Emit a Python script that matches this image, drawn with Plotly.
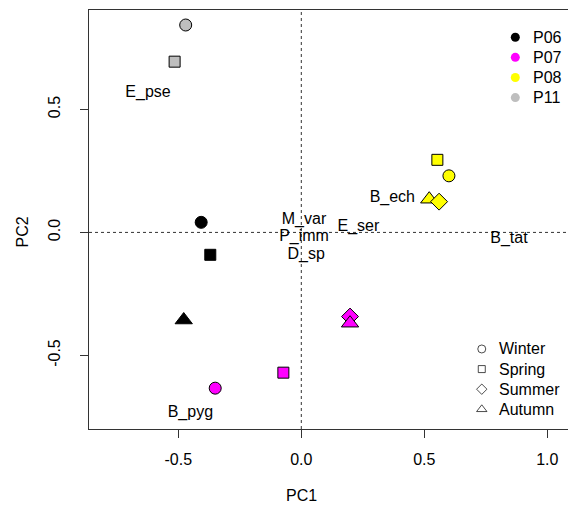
import plotly.graph_objects as go

# ---- data ----
sites = ["P06", "P07", "P08", "P11"]
site_colors = ["#000000", "#FF00FF", "#FFFF00", "#BEBEBE"]
seasons = ["Winter", "Spring", "Summer", "Autumn"]
season_symbols = ["circle", "square", "diamond", "triangle-up"]
season_sizes = [12, 11, 13, 15]

pt_site = ["P06", "P06", "P06", "P07", "P07", "P07", "P07", "P08", "P08", "P08", "P08", "P11", "P11"]
pt_season = ["Winter", "Spring", "Autumn", "Winter", "Spring", "Summer", "Autumn",
             "Spring", "Winter", "Autumn", "Summer", "Winter", "Spring"]
pc1 = [-0.407, -0.37, -0.478, -0.35, -0.073, 0.198, 0.198, 0.553, 0.600, 0.52, 0.56, -0.47, -0.515]
pc2 = [0.041, -0.091, -0.356, -0.633, -0.570, -0.342, -0.369, 0.295, 0.230, 0.135, 0.125, 0.843, 0.694]

species = ["E_pse", "M_var", "P_imm", "D_sp", "E_ser", "B_tat", "B_ech", "B_pyg"]
sp_pc1 = [-0.623, 0.011, 0.011, 0.02, 0.232, 0.844, 0.37, -0.451]
sp_pc2 = [0.568, 0.051, -0.018, -0.09, 0.024, -0.028, 0.141, -0.733]

x_ticks = [-0.5, 0.0, 0.5, 1.0]
y_ticks = [-0.5, 0.0, 0.5]

FONT = "Liberation Sans, Arial, sans-serif"
FS = 16

fig = go.Figure()

# points
col_of = dict(zip(sites, site_colors))
sym_of = dict(zip(seasons, season_symbols))
size_of = dict(zip(seasons, season_sizes))
fig.add_trace(go.Scatter(
    x=pc1, y=pc2, mode="markers", showlegend=False, hoverinfo="skip",
    marker=dict(color=[col_of[s] for s in pt_site],
                symbol=[sym_of[s] for s in pt_season],
                size=[size_of[s] for s in pt_season],
                line=dict(color="black", width=1), opacity=1),
))

# species labels
fig.add_trace(go.Scatter(
    x=sp_pc1, y=sp_pc2, mode="text", text=species, showlegend=False, hoverinfo="skip",
    textfont=dict(family=FONT, size=FS, color="black"),
))

# legends on an overlay axis (0..1)
leg1_y = [0.935, 0.887, 0.839, 0.791]
leg2_y = [0.191, 0.143, 0.095, 0.047]
fig.add_trace(go.Scatter(
    x=[0.89] * 4, y=leg1_y, xaxis="x2", yaxis="y2", mode="markers", showlegend=False,
    hoverinfo="skip", marker=dict(color=site_colors, size=9, symbol="circle", line=dict(width=0)),
))
fig.add_trace(go.Scatter(
    x=[0.820] * 4, y=leg2_y, xaxis="x2", yaxis="y2", mode="markers", showlegend=False,
    hoverinfo="skip",
    marker=dict(color="black", size=[8, 7, 8, 9],
                symbol=[s + "-open" for s in season_symbols], line=dict(color="black", width=1)),
))
annotations = []
for lab, yy in zip(sites, leg1_y):
    annotations.append(dict(x=0.922, y=yy, xref="paper", yref="paper", text=lab, showarrow=False,
                            xanchor="left", yanchor="middle", font=dict(family=FONT, size=FS, color="black")))
for lab, yy in zip(seasons, leg2_y):
    annotations.append(dict(x=0.852, y=yy, xref="paper", yref="paper", text=lab, showarrow=False,
                            xanchor="left", yanchor="middle", font=dict(family=FONT, size=FS, color="black")))
# axis titles
annotations.append(dict(x=0.0, y=0.0, xref="x", yref="paper", yshift=-66, text="PC1", showarrow=False,
                        xanchor="center", yanchor="middle", font=dict(family=FONT, size=FS, color="black")))
annotations.append(dict(x=0.0, y=0.0, xref="paper", yref="y", xshift=-67, text="PC2", showarrow=False,
                        textangle=-90, xanchor="center", yanchor="middle",
                        font=dict(family=FONT, size=FS, color="black")))

shapes = [
    dict(type="line", xref="x", yref="paper", x0=0, x1=0, y0=0, y1=1,
         line=dict(color="#333333", width=1, dash="dot"), layer="below"),
    dict(type="line", xref="paper", yref="y", x0=0, x1=1, y0=0, y1=0,
         line=dict(color="#333333", width=1, dash="dot"), layer="below"),
]

fig.update_layout(
    width=568, height=509,
    margin=dict(l=89, r=0, t=10, b=80),
    plot_bgcolor="white", paper_bgcolor="white",
    font=dict(family=FONT, size=FS, color="black"),
    xaxis=dict(range=[-0.863, 1.084], tickvals=x_ticks, ticktext=[f"{v:.1f}" for v in x_ticks],
               showgrid=False, zeroline=False, showline=True, mirror=True, linecolor="#333333",
               linewidth=1, ticks="outside", ticklen=8, tickcolor="#333333",
               ticklabelstandoff=8, tickfont=dict(family=FONT, size=FS, color="black")),
    yaxis=dict(range=[-0.799, 0.904], tickvals=y_ticks, ticktext=[f"{v:.1f}" for v in y_ticks],
               showgrid=False, zeroline=False, showline=True, mirror=False, linecolor="#333333",
               linewidth=1, ticks="outside", ticklen=8, tickcolor="#333333", tickangle=-90,
               ticklabelstandoff=14, tickfont=dict(family=FONT, size=FS, color="black")),
    xaxis2=dict(range=[0, 1], overlaying="x", visible=False, fixedrange=True),
    yaxis2=dict(range=[0, 1], overlaying="y", visible=False, fixedrange=True),
    annotations=annotations,
    shapes=shapes,
    showlegend=False,
)

fig.write_html("out.html")
